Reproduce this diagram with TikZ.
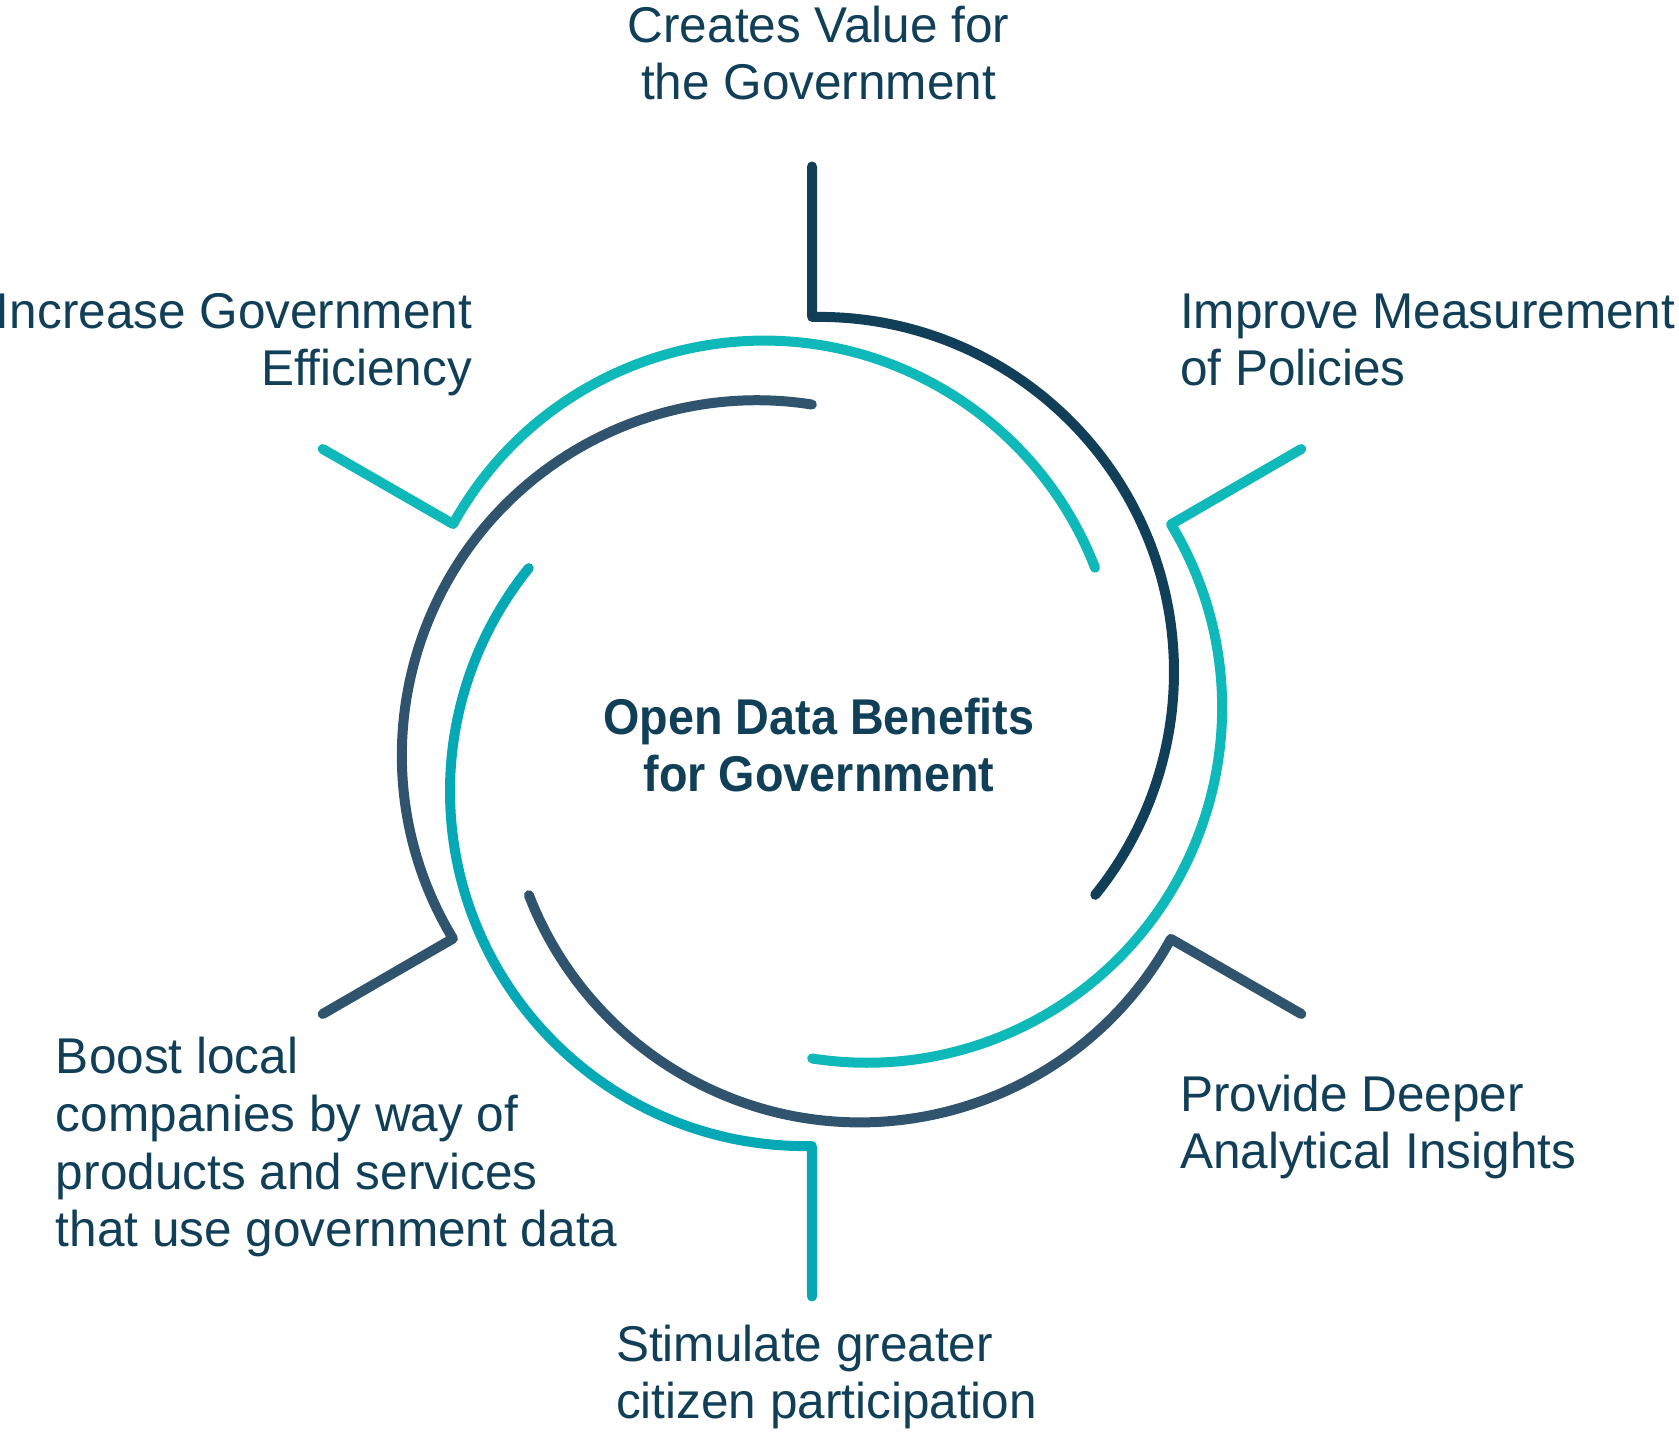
\documentclass[tikz,border=0pt]{standalone}
\usepackage{xcolor}
\usepackage{fontspec}
\usetikzlibrary{calc}
\setmainfont{Liberation Sans}[FakeStretch=0.985]
\newfontfamily\titlefont{Liberation Sans}[FakeStretch=0.93]
\definecolor{navy}{HTML}{113F57}
\definecolor{teal}{HTML}{0FB9B9}
\definecolor{tealdark}{HTML}{05A9B6}
\definecolor{slate}{HTML}{30546E}

\begin{document}
\begin{tikzpicture}[line width=0.1cm,line cap=round,line join=round,
    label/.style={inner sep=0pt,text=navy,font=\fontsize{14.3pt}{16.5pt}\selectfont}]
          \useasboundingbox (0,0) rectangle (16.79,14.34);
          \coordinate (c) at (8.12,7.025);

          \foreach \a/\col in {90/navy,30/teal,-30/slate,-90/tealdark,-150/slate,150/teal}
          {
            \coordinate (out\a) at ($(c)+(\a:5.65)$);
            \coordinate (in\a) at ($(c)+(\a-6.7:0.6)+(\a+1.1:3.55)$);
            \draw[\col] (out\a) -- (in\a) arc[start angle=\a+1.1,delta angle=-130,radius=3.55];
          }

          \node[label,align=center,anchor=base] (value) at (8.185,13.34) {Creates Value for\\the Government};
          \node[label,align=left,anchor=base west] (measure) at (11.75,10.48) {Improve Measurement\\of Policies};
          \node[label,align=left,anchor=base west] (insight) at (11.75,2.65) {Provide Deeper\\Analytical Insights};
          \node[label,align=left,anchor=base west] (citizen) at (6.11,0.15) {Stimulate greater\\citizen participation};
          \node[label,align=left,anchor=base west] (boost) at (0.51,1.87) {Boost local\\companies by way of\\products and services\\that use government data};
          \node[label,align=right,anchor=base east] (effic) at (4.77,10.48) {Increase Government\\Efficiency};
          \node[label,align=center,anchor=base,font=\titlefont\bfseries\fontsize{14.3pt}{16.5pt}\selectfont] (title) at (8.19,6.42) {Open Data Benefits\\for Government};
\end{tikzpicture}
\end{document}
